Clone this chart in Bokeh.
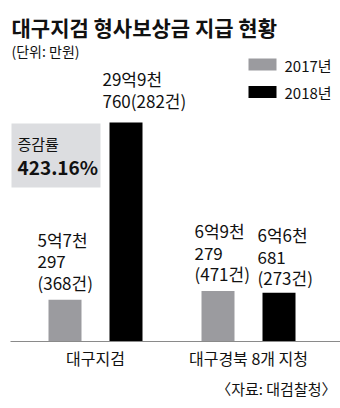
from bokeh.plotting import figure
from bokeh.models import Range1d
from bokeh.core.properties import value
from bokeh.embed import file_html
from bokeh.resources import INLINE

# ---- data (단위: 만원) ----
categories = ["대구지검", "대구경북 8개 지청"]
years = ["2017년", "2018년"]
amount_2017 = [57297, 69279]
amount_2018 = [299760, 66681]
cases_2017 = [368, 471]
cases_2018 = [282, 273]
change_title = "증감률"
change_value = "423.16%"
title = "대구지검 형사보상금 지급 현황"
unit = "(단위: 만원)"
source = "〈자료: 대검찰청〉"

# ---- layout helpers ----
W, H = 340, 408
BASE = 341            # baseline pixel row (from top)
PX = 1368.8           # data units per pixel
def Y(top_px):
    return (BASE - top_px) * PX

FONT = "Noto Sans CJK KR"
GRAY = "#9b9b9f"
BLACK = "#000000"

p = figure(width=W, height=H, output_backend="svg", toolbar_location=None,
           x_range=Range1d(0, W), y_range=Range1d(-(H - BASE) * PX, BASE * PX),
           min_border=0)
p.axis.visible = False
p.grid.visible = False
p.outline_line_color = None
p.background_fill_color = "white"
p.border_fill_color = "white"

group_x = [95, 248]
dodge = 30.5
bw = 33
x17 = [g - dodge for g in group_x]
x18 = [g + dodge for g in group_x]

p.vbar(x=x17, top=amount_2017, bottom=0, width=bw, fill_color=GRAY, line_color=None)
p.vbar(x=x18, top=amount_2018, bottom=0, width=bw, fill_color=BLACK, line_color=None)

# baseline
p.segment(x0=[10], y0=[0], x1=[W], y1=[0], line_color="#8a8a8a", line_width=1)

def fmt(v):
    eok = v // 10000
    cheon = (v % 10000) // 1000
    rest = v % 1000
    return f"{eok}억{cheon}천", f"{rest}"

def label(v, c, compact=False):
    a, b = fmt(v)
    if compact:
        return f"{a}\n{b}({c}건)"
    return f"{a}\n{b}\n({c}건)"

bars_x = [x17[0], x18[0], x17[1], x18[1]]
vals = [amount_2017[0], amount_2018[0], amount_2017[1], amount_2018[1]]
cases = [cases_2017[0], cases_2018[0], cases_2017[1], cases_2018[1]]
texts = [label(v, c, compact=(i == 1)) for i, (v, c) in enumerate(zip(vals, cases))]
lx = [bars_x[0] - 27.5, bars_x[1] - 23.5, bars_x[2] - 23.5, bars_x[3] - 21.5]
loff = [-5, -10, -5, -3]
p.text(x=lx, y=vals, text=texts, y_offset=loff, text_font=value(FONT),
       text_font_size="17px", text_baseline="bottom", text_align="left",
       text_line_height=0.85, text_color="#111111")

# category labels
p.text(x=group_x, y=[Y(357)] * 2, text=categories, text_font=value(FONT),
       text_font_size="16px", text_baseline="middle", text_align="center",
       text_color="#111111")

# title / unit / source
p.text(x=[11], y=[Y(26)], text=[title], text_font=value(FONT), text_font_style="bold",
       text_font_size="21px", text_baseline="middle", text_align="left", text_color="#111111")
p.text(x=[11], y=[Y(50)], text=[unit], text_font=value(FONT),
       text_font_size="14px", text_baseline="middle", text_align="left", text_color="#111111")
p.text(x=[336], y=[Y(388)], text=[source], text_font=value(FONT),
       text_font_size="15px", text_baseline="middle", text_align="right", text_color="#111111")

# legend
p.rect(x=[262, 262], y=[Y(64), Y(91.5)], width=28, height=12 * PX,
       fill_color=[GRAY, BLACK], line_color=None)
p.text(x=[284, 284], y=[Y(65), Y(92)], text=years, text_font=value(FONT),
       text_font_size="15px", text_baseline="middle", text_align="left", text_color="#111111")

# change box
p.quad(left=[11], right=[100], top=[Y(123)], bottom=[Y(187)], fill_color="#dcdde0", line_color=None)
p.text(x=[17], y=[Y(142.5)], text=[change_title], text_font=value(FONT),
       text_font_size="15px", text_baseline="middle", text_align="left", text_color="#111111")
p.text(x=[17], y=[Y(166)], text=[change_value], text_font=value(FONT), text_font_style="bold",
       text_font_size="19px", text_baseline="middle", text_align="left", text_color="#111111")

open("out.html", "w").write(file_html(p, INLINE))
